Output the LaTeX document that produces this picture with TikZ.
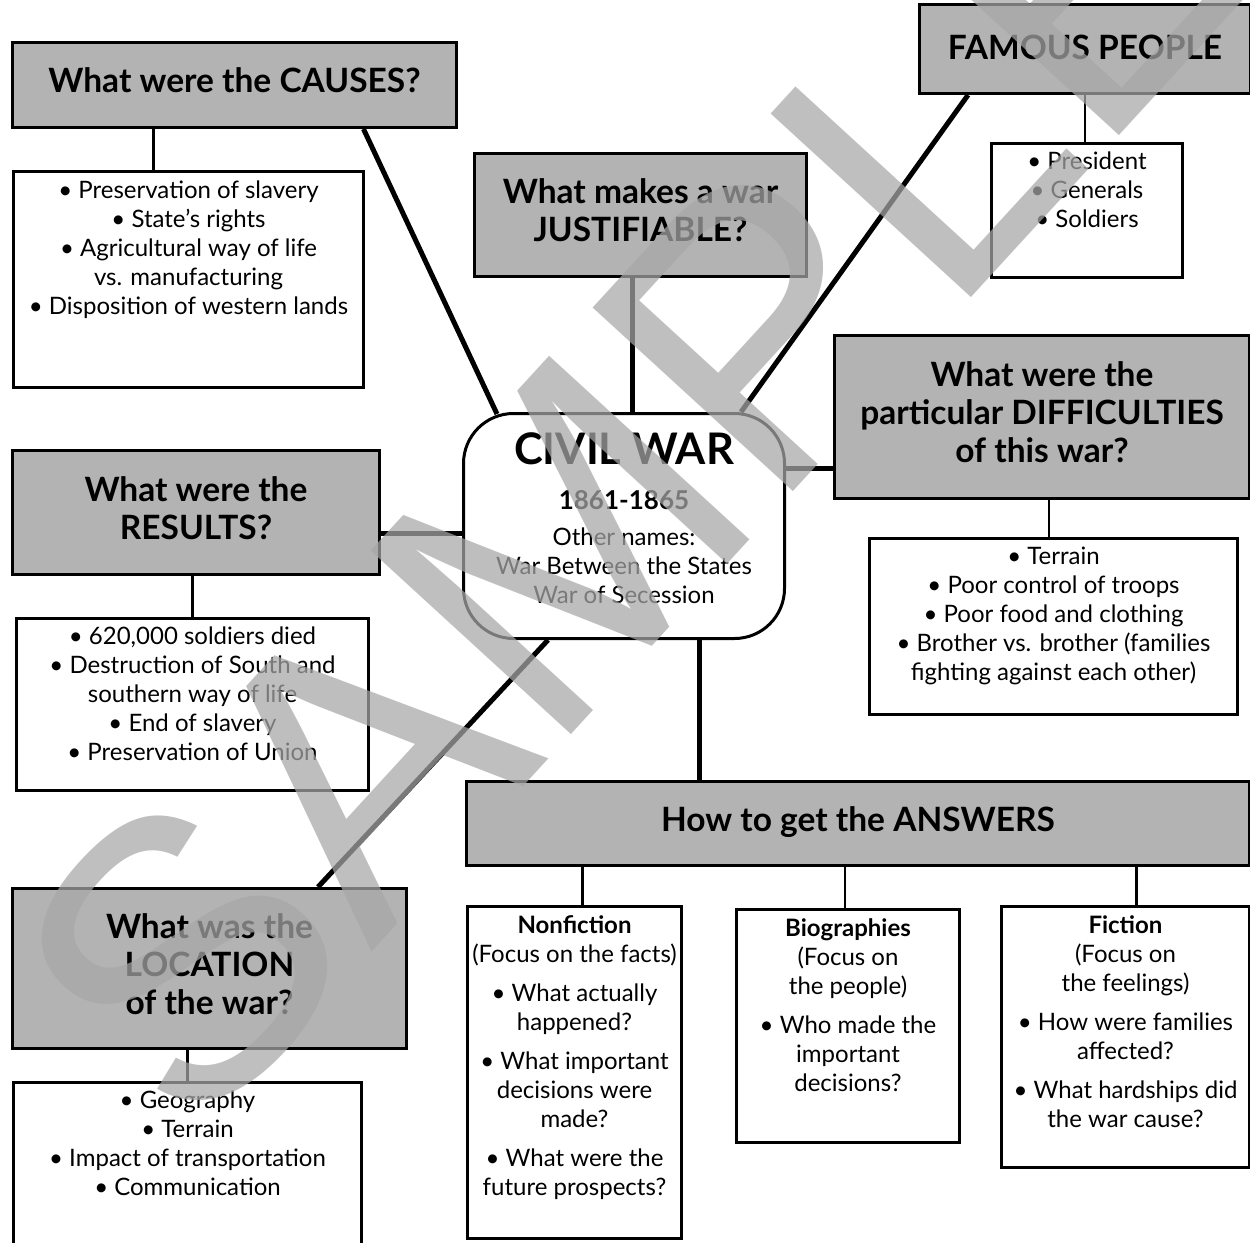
\documentclass[tikz,border=0pt]{standalone}
\usepackage{fontspec}
\setmainfont{Lato}
\newfontfamily\markfont{Liberation Sans}
\usetikzlibrary{positioning}

\definecolor{boxgray}{RGB}{179,179,179}
\definecolor{markgray}{RGB}{167,167,167}

\begin{document}
\begin{tikzpicture}
  [
    x=1pt, y=-1pt,
    head/.style={draw, line width=3pt, fill=boxgray, align=center, inner sep=0pt,
      text depth=9pt, anchor=north west, font=\fontsize{33.5}{38}\selectfont\bfseries},
    list/.style={draw, line width=3pt, fill=white, inner sep=0pt, anchor=north west},
    listtext/.style={align=center, inner sep=0pt, font=\fontsize{24}{29}\selectfont},
    link/.style={line width=5pt},
    twig/.style={line width=2.5pt},
    watermark/.style={font=\markfont\fontsize{395}{395}\selectfont, text=markgray,
      text opacity=0.73, inner sep=0pt, rotate=47.5, anchor=base west}
  ]
  \useasboundingbox (0,0) rectangle (1250,1242);

  \node[head, minimum width=444pt, minimum height=85pt] (causes) at (11,41)
    {What were the CAUSES?};
  \node[list, minimum width=350pt, minimum height=216pt] (causeslist) at (12,170) {};
  \node[listtext, below=11pt of causeslist.north] (causestext)
    {• Preservation of slavery\\• State’s rights\\• Agricultural way of life\\vs. manufacturing\\• Disposition of western lands};

  \node[head, minimum width=332pt, minimum height=123pt] (justifiable) at (473,152)
    {What makes a war\\JUSTIFIABLE?};

  \node[head, text depth=4pt, minimum width=331pt, minimum height=89pt] (famous) at (918,3)
    {FAMOUS PEOPLE};
  \node[list, minimum width=191pt, minimum height=134pt] (famouslist) at (990,142) {};
  \node[listtext, below=10pt of famouslist.north] (famoustext)
    {• President\\• Generals\\• Soldiers};

  \node[draw, line width=3pt, fill=white, rounded corners=50pt, inner sep=0pt,
    anchor=north west, minimum width=321pt, minimum height=225pt] (civil) at (462,412) {};
  \node[listtext, below=20pt of civil.north] (civiltext)
    {{\fontsize{43.5}{45}\selectfont\bfseries CIVIL WAR}\\[16pt]
     {\fontsize{26}{29}\selectfont\bfseries 1861-1865}\\[7pt]
     Other names:\\War Between the States\\War of Secession};

  \node[head, minimum width=415pt, minimum height=163pt] (difficulties) at (833,334)
    {What were the\\particular DIFFICULTIES\\of this war?};
  \node[list, minimum width=368pt, minimum height=176pt] (difficultieslist) at (868,537) {};
  \node[listtext, below=10pt of difficultieslist.north] (difficultiestext)
    {• Terrain\\• Poor control of troops\\• Poor food and clothing\\• Brother vs. brother (families\\fighting against each other)};

  \node[head, minimum width=367pt, minimum height=124pt] (results) at (11,449)
    {What were the\\RESULTS?};
  \node[list, minimum width=352pt, minimum height=172pt] (resultslist) at (15,617) {};
  \node[listtext, below=10pt of resultslist.north] (resultstext)
    {• 620,000 soldiers died\\• Destruction of South and\\southern way of life\\• End of slavery\\• Preservation of Union};

  \node[head, minimum width=394pt, minimum height=160pt] (location) at (11,887)
    {What was the\\LOCATION\\of the war?};
  \node[list, minimum width=348pt, minimum height=200pt] (locationlist) at (12,1081) {};
  \node[listtext, below=10pt of locationlist.north] (locationtext)
    {• Geography\\• Terrain\\• Impact of transportation\\• Communication};

  \node[head, minimum width=783pt, minimum height=84pt] (answers) at (465,780)
    {How to get the ANSWERS};
  \node[list, minimum width=214pt, minimum height=332pt] (nonfiction) at (466,905) {};
  \node[listtext, below=10pt of nonfiction.north] (nonfictiontext)
    {{\bfseries Nonfiction}\\(Focus on the facts)\\[10pt]• What actually\\happened?\\[10pt]• What important\\decisions were\\made?\\[10pt]• What were the\\future prospects?};
  \node[list, minimum width=223pt, minimum height=233pt] (biographies) at (735,908) {};
  \node[listtext, below=10pt of biographies.north] (biographiestext)
    {{\bfseries Biographies}\\(Focus on\\the people)\\[10pt]• Who made the\\important\\decisions?};
  \node[list, minimum width=248pt, minimum height=261pt] (fiction) at (1000,905) {};
  \node[listtext, below=10pt of fiction.north] (fictiontext)
    {{\bfseries Fiction}\\(Focus on\\the feelings)\\[10pt]• How were families\\affected?\\[10pt]• What hardships did\\the war cause?};

  \draw[link] ([xshift=129pt]causes.south) -- ([xshift=35pt,yshift=-2pt]civil.north west);
  \draw[link] ([xshift=-8pt]justifiable.south) -- ([xshift=-8pt]justifiable.south |- civil.north);
  \draw[link] ([xshift=50pt]famous.south west) -- ([xshift=-45pt]civil.north east);
  \draw[link] ([yshift=-51.5pt]difficulties.west) -- ([yshift=-51.5pt]difficulties.west -| civil.east);
  \draw[link] ([yshift=-21pt]results.east) -- ([yshift=-21pt]results.east -| civil.west);
  \draw[link] ([xshift=75pt]civil.south) -- ([xshift=75pt]civil.south |- answers.north);
  \draw[link] ([xshift=86pt]civil.south west) -- ([xshift=307pt]location.north west);

  \draw[twig] ([xshift=-81pt]causes.south) -- ([xshift=-81pt]causes.south |- causeslist.north);
  \draw[twig] (famous.south) -- (famous.south |- famouslist.north);
  \draw[twig] ([xshift=7pt]difficulties.south) -- ([xshift=7pt]difficulties.south |- difficultieslist.north);
  \draw[twig] (resultslist.north) -- (resultslist.north |- results.south);
  \draw[twig] (locationlist.north) -- (locationlist.north |- location.south);
  \draw[twig] ([xshift=8pt]nonfiction.north) -- ([xshift=8pt]nonfiction.north |- answers.south);
  \draw[twig] ([xshift=-3pt]biographies.north) -- ([xshift=-3pt]biographies.north |- answers.south);
  \draw[twig] ([xshift=11pt]fiction.north) -- ([xshift=11pt]fiction.north |- answers.south);

  \node[watermark] (sample) at (193,1147) {SAMPLE};
\end{tikzpicture}
\end{document}
